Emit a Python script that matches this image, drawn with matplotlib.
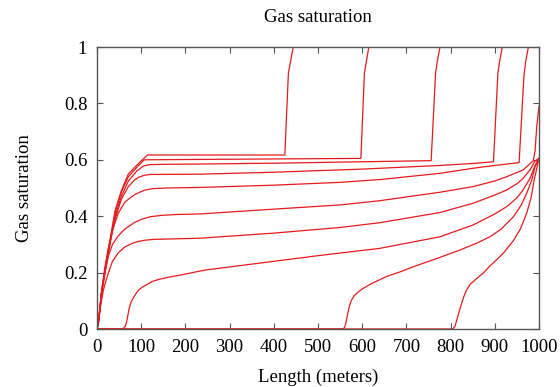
import matplotlib
matplotlib.use('Agg')
import matplotlib.pyplot as plt
from matplotlib.ticker import FormatStrFormatter

plt.rcParams['font.family'] = ['Liberation Serif', 'DejaVu Serif']

# gas saturation profiles along the length
x1 = [0, 3, 11, 22, 30, 41, 55, 71, 94, 114, 425, 433, 437, 444, 1000]
s1 = [0, 0.02, 0.14, 0.245, 0.32, 0.42, 0.49, 0.55, 0.587, 0.617, 0.617, 0.907, 0.942, 1.0, 1.0]

x2 = [0, 3, 11, 22, 30, 41, 55, 71, 94, 107, 200, 300, 400, 500, 597, 605, 610, 615, 1000]
s2 = [0, 0.02, 0.14, 0.24, 0.315, 0.415, 0.485, 0.54, 0.58, 0.6, 0.601, 0.602, 0.603, 0.604, 0.605, 0.907, 0.954, 1.0, 1.0]

x3 = [0, 3, 11, 22, 30, 41, 55, 71, 90, 105, 120, 150, 233, 400, 600, 756, 766, 770, 776, 1000]
s3 = [0, 0.02, 0.135, 0.235, 0.305, 0.4, 0.47, 0.525, 0.56, 0.578, 0.583, 0.584, 0.585, 0.588, 0.593, 0.597, 0.907, 0.95, 1.0, 1.0]

x4 = [0, 3, 11, 20, 30, 41, 55, 71, 84, 94, 107, 120, 233, 400, 600, 776, 851, 897, 907, 911, 917, 1000]
s4 = [0, 0.02, 0.14, 0.23, 0.31, 0.39, 0.46, 0.505, 0.527, 0.538, 0.545, 0.548, 0.549, 0.556, 0.567, 0.58, 0.587, 0.593, 0.907, 0.95, 1.0, 1.0]

x5 = [0, 3, 10, 18, 26, 35, 48, 63, 75, 86, 98, 109, 127, 160, 233, 400, 550, 640, 776, 851, 900, 955, 966, 970, 976, 1000]
s5 = [0, 0.02, 0.13, 0.22, 0.29, 0.35, 0.41, 0.45, 0.465, 0.477, 0.486, 0.493, 0.498, 0.5, 0.502, 0.51, 0.52, 0.53, 0.552, 0.57, 0.58, 0.59, 0.9, 0.95, 1.0, 1.0]

x6 = [0, 3, 10, 18, 26, 35, 48, 60, 71, 85, 101, 120, 146, 180, 233, 400, 550, 640, 776, 851, 900, 927, 964, 987, 991, 995, 1000]
s6 = [0, 0.02, 0.12, 0.2, 0.26, 0.3, 0.33, 0.35, 0.363, 0.378, 0.389, 0.398, 0.403, 0.406, 0.408, 0.425, 0.44, 0.455, 0.485, 0.505, 0.525, 0.54, 0.564, 0.597, 0.63, 0.72, 0.79]

x7 = [0, 3, 8, 14, 20, 26, 35, 48, 63, 80, 95, 109, 130, 160, 233, 400, 550, 640, 776, 851, 900, 927, 950, 964, 980, 991, 1000]
s7 = [0, 0.02, 0.08, 0.135, 0.17, 0.2, 0.24, 0.27, 0.291, 0.304, 0.311, 0.315, 0.318, 0.319, 0.322, 0.34, 0.36, 0.377, 0.413, 0.446, 0.475, 0.493, 0.515, 0.534, 0.565, 0.596, 0.605]

x8 = [0, 56, 60, 64, 67, 70, 73, 77, 82, 88, 94, 102, 110, 124, 140, 160, 184, 210, 244, 300, 400, 500, 640, 776, 851, 900, 927, 950, 964, 980, 991, 1000]
s8 = [0, 0, 0.003, 0.01, 0.025, 0.05, 0.075, 0.095, 0.11, 0.125, 0.138, 0.148, 0.155, 0.168, 0.176, 0.183, 0.19, 0.198, 0.209, 0.22, 0.24, 0.26, 0.286, 0.327, 0.369, 0.408, 0.434, 0.465, 0.493, 0.535, 0.58, 0.605]

x9 = [0, 556, 560, 563, 566, 570, 575, 582, 590, 599, 620, 640, 655, 690, 716, 776, 821, 860, 889, 915, 942, 960, 972, 983, 991, 1000]
s9 = [0, 0, 0.005, 0.02, 0.045, 0.075, 0.1, 0.118, 0.13, 0.141, 0.16, 0.175, 0.186, 0.205, 0.221, 0.254, 0.28, 0.305, 0.327, 0.355, 0.398, 0.44, 0.481, 0.525, 0.575, 0.605]

x10 = [0, 805, 810, 814, 820, 825, 830, 836, 845, 860, 875, 890, 905, 920, 942, 958, 972, 982, 989, 995, 1000]
s10 = [0, 0, 0.01, 0.032, 0.065, 0.091, 0.115, 0.138, 0.16, 0.18, 0.2, 0.225, 0.247, 0.27, 0.313, 0.355, 0.41, 0.465, 0.528, 0.57, 0.605]

profiles = [(x1, s1), (x2, s2), (x3, s3), (x4, s4), (x5, s5),
            (x6, s6), (x7, s7), (x8, s8), (x9, s9), (x10, s10)]

x_ticks = list(range(0, 1001, 100))
y_ticks = [0, 0.2, 0.4, 0.6, 0.8, 1.0]

fig = plt.figure(figsize=(5.6, 3.87), dpi=100)
ax = fig.add_axes([97/560, 1 - 329/387, 442/560, 282/387])

for x, s in profiles:
    ax.plot(x, s, color='#e41a1c', lw=0.9)

ax.set_xlim(0, 1000)
ax.set_ylim(0, 1)
ax.set_xticks(x_ticks)
ax.set_yticks(y_ticks)
ax.yaxis.set_major_formatter(FormatStrFormatter('%g'))
ax.tick_params(direction='in', top=True, right=True, length=4, width=0.8,
               color='#555555', labelsize=13.5, pad=7)
for sp in ax.spines.values():
    sp.set_color('#555555')
    sp.set_linewidth(1.0)

fig.text(318/560, 1 - 18/387, 'Gas saturation', ha='center', va='center', fontsize=13.5)
fig.text(318/560, 1 - 377/387, 'Length (meters)', ha='center', va='center', fontsize=13.5)
fig.text(25/560, 1 - 188/387, 'Gas saturation', ha='center', va='center',
         rotation=90, fontsize=13.5)

fig.savefig('out.png', dpi=100)
